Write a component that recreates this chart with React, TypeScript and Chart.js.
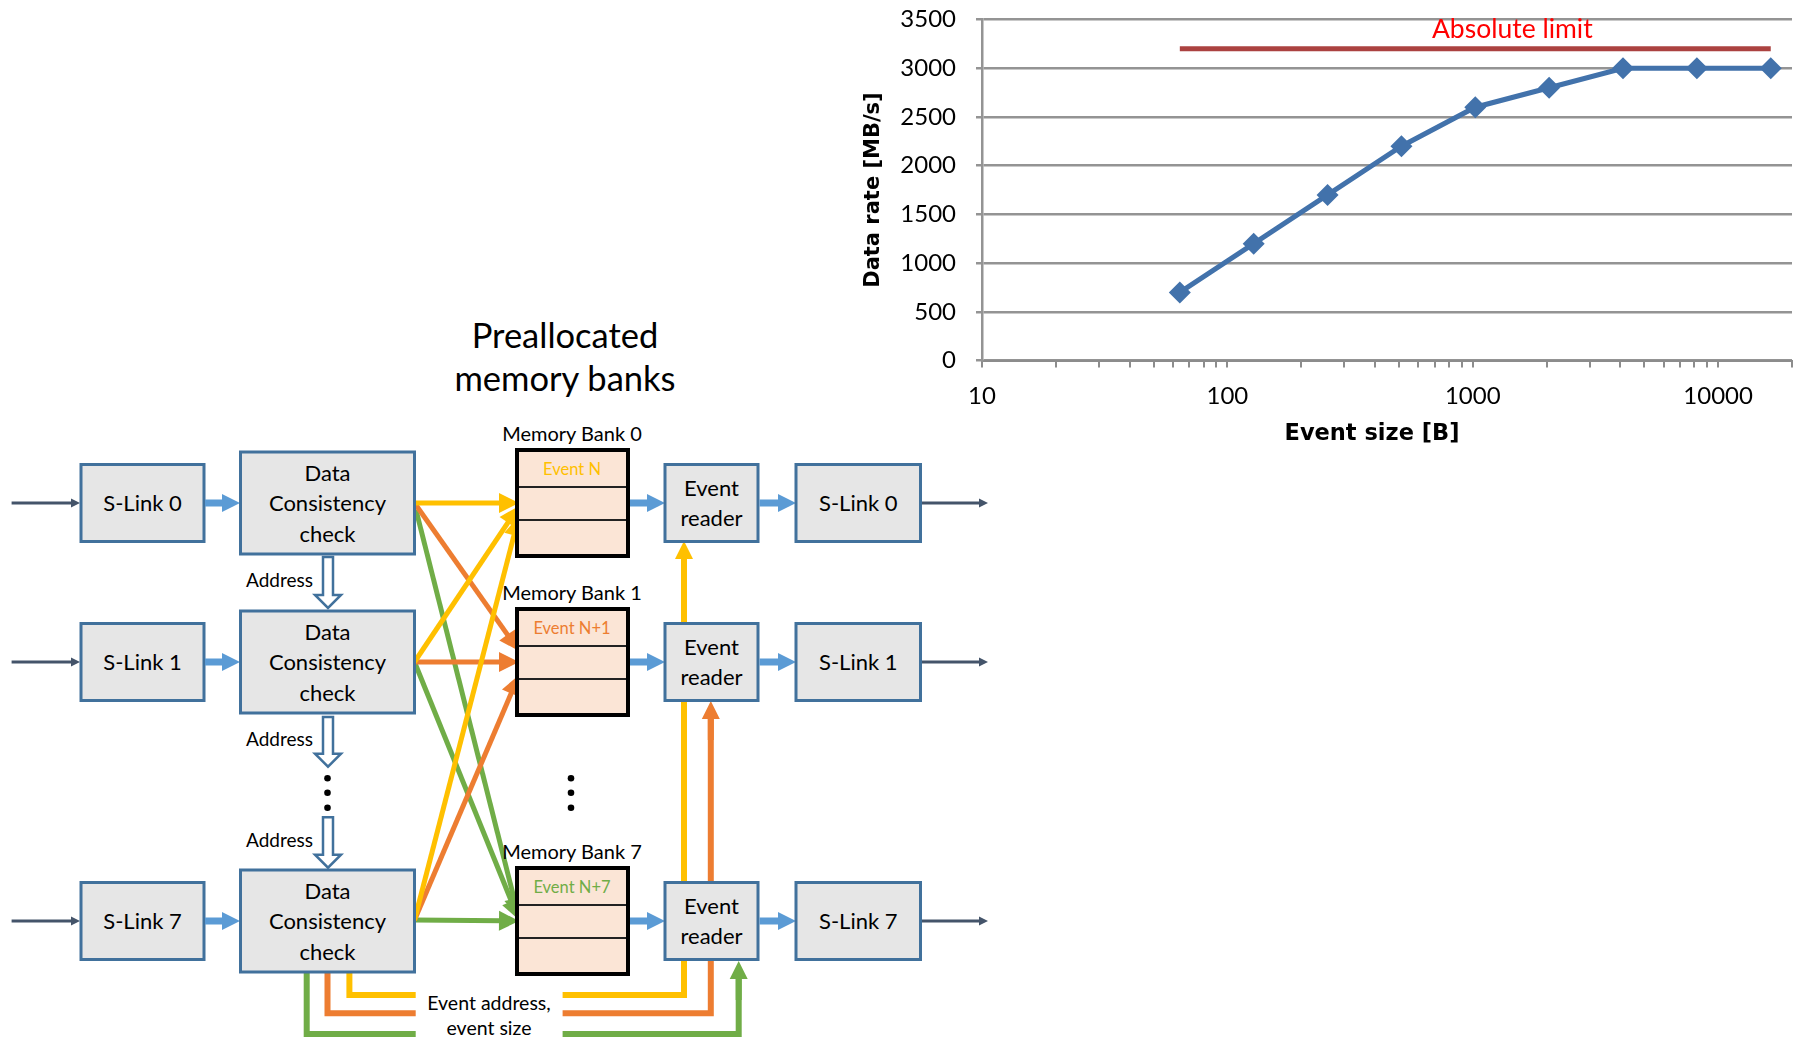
import React, { useEffect, useRef } from "react";
import { Chart, registerables } from "chart.js";

Chart.register(...registerables);

// ---------- chart data ----------
const eventSizes = [64, 128, 256, 512, 1024, 2048, 4096, 8192, 16384];
const dataRates = [700, 1200, 1700, 2200, 2600, 2800, 3000, 3000, 3000];
const limitSizes = [64, 16384];
const limitRates = [3200, 3200];
const limitLabel = "Absolute limit";
const limitLabelSize = 1450;
const limitLabelRate = 3400;
const xMajorTicks = [10, 100, 1000, 10000];
const xMinorTicks = [
  20, 30, 40, 50, 60, 70, 80, 90,
  200, 300, 400, 500, 600, 700, 800, 900,
  2000, 3000, 4000, 5000, 6000, 7000, 8000, 9000,
  20000,
];
const yMin = 0;
const yMax = 3500;
const yStep = 500;
const xMin = 10;
const xMax = 20000;
const xTitle = "Event size [B]";
const yTitle = "Data rate [MB/s]";

// ---------- diagram text ----------
const rowNames = ["0", "1", "7"];
const eventNames = ["Event N", "Event N+1", "Event N+7"];

const C = {
  boxFill: "#e6e6e6",
  boxStroke: "#41719c",
  blue: "#5b9bd5",
  bank: "#fbe5d6",
  yellow: "#ffc000",
  orange: "#ed7d31",
  green: "#70ad47",
  slate: "#44546a",
};
const eventColors = [C.yellow, C.orange, C.green];
const FONT = "Lato, 'Open Sans', sans-serif";

const rows = [503, 662, 921];

function Arrow({ x1, y1, x2, y2, color, w = 6, hl = 20, hw = 20 }: any) {
  const dx = x2 - x1, dy = y2 - y1;
  const len = Math.hypot(dx, dy);
  const ux = dx / len, uy = dy / len;
  const px = -uy, py = ux;
  const bx = x2 - ux * hl, by = y2 - uy * hl;
  return (
    <g>
      <line x1={x1} y1={y1} x2={bx + ux * 3} y2={by + uy * 3} stroke={color} strokeWidth={w} />
      <polygon
        points={`${x2},${y2} ${bx + (px * hw) / 2},${by + (py * hw) / 2} ${bx - (px * hw) / 2},${by - (py * hw) / 2}`}
        fill={color}
      />
    </g>
  );
}

function BlockArrow({ x1, x2, y }: any) {
  const hl = 18, sh = 3.5, hh = 9;
  const pts = [
    [x1, y - sh], [x2 - hl, y - sh], [x2 - hl, y - hh], [x2, y],
    [x2 - hl, y + hh], [x2 - hl, y + sh], [x1, y + sh],
  ].map((p) => p.join(",")).join(" ");
  return <polygon points={pts} fill={C.blue} />;
}

function ThinArrow({ x1, x2, y }: any) {
  return (
    <g>
      <line x1={x1} y1={y} x2={x2 - 6} y2={y} stroke={C.slate} strokeWidth={3} />
      <polygon points={`${x2},${y} ${x2 - 9},${y - 4.5} ${x2 - 9},${y + 4.5}`} fill={C.slate} />
    </g>
  );
}

function HollowArrow({ cx, y1, y2 }: any) {
  const sw = 5, hw = 13, hl = 13;
  const pts = [
    [cx - sw, y1], [cx + sw, y1], [cx + sw, y2 - hl], [cx + hw, y2 - hl],
    [cx, y2], [cx - hw, y2 - hl], [cx - sw, y2 - hl],
  ].map((p) => p.join(",")).join(" ");
  return <polygon points={pts} fill="#fff" stroke={C.boxStroke} strokeWidth={2.5} strokeLinejoin="miter" />;
}

function Box({ x, y, w, h, lines, cy, spacing, fs = 22 }: any) {
  const n = lines.length;
  return (
    <g>
      <rect x={x} y={y} width={w} height={h} fill={C.boxFill} stroke={C.boxStroke} strokeWidth={3} />
      {lines.map((t: string, i: number) => (
        <text
          key={i}
          x={x + w / 2}
          y={cy + (i - (n - 1) / 2) * spacing}
          textAnchor="middle"
          dominantBaseline="central"
          fontFamily={FONT}
          fontSize={fs}
          fill="#000"
        >
          {t}
        </text>
      ))}
    </g>
  );
}

function Diagram() {
  const dccRight = 414.5;
  const bankLeft = 519;
  const t = (x: number, y: number, s: string, fs: number, anchor = "middle", color = "#000") => (
    <text x={x} y={y} textAnchor={anchor as any} dominantBaseline="central" fontFamily={FONT} fontSize={fs} fill={color}>
      {s}
    </text>
  );
  return (
    <svg width={1795} height={1038} style={{ position: "absolute", left: 0, top: 0 }}>
      {/* feedback lines */}
      <g fill="none" strokeWidth={6} strokeLinejoin="miter">
        <polyline points="349.4,972 349.4,995 415.7,995" stroke={C.yellow} />
        <polyline points="562.6,995 684,995 684,556" stroke={C.yellow} />
        <polyline points="327.5,972 327.5,1013.3 415.7,1013.3" stroke={C.orange} />
        <polyline points="562.6,1013.3 710.8,1013.3 710.8,716" stroke={C.orange} />
        <polyline points="306.7,972 306.7,1034 415.7,1034" stroke={C.green} />
        <polyline points="562.6,1034 738.7,1034 738.7,976" stroke={C.green} />
      </g>
      <Arrow x1={684} y1={580} x2={684} y2={541} color={C.yellow} hl={18} hw={18} />
      <Arrow x1={710.8} y1={740} x2={710.8} y2={701} color={C.orange} hl={18} hw={18} />
      <Arrow x1={738.7} y1={1000} x2={738.7} y2={961} color={C.green} hl={18} hw={18} />

      {/* crossing lines */}
      <Arrow x1={dccRight} y1={662} x2={bankLeft} y2={920} color={C.green} w={5} />
      <Arrow x1={416} y1={510} x2={bankLeft} y2={918} color={C.green} w={5} />
      <Arrow x1={dccRight} y1={920} x2={bankLeft} y2={921} color={C.green} w={5} />
      <Arrow x1={dccRight} y1={503} x2={bankLeft} y2={651} color={C.orange} w={5} />
      <Arrow x1={dccRight} y1={920} x2={bankLeft} y2={675} color={C.orange} w={5} />
      <Arrow x1={dccRight} y1={662} x2={bankLeft} y2={662} color={C.orange} w={5} />
      <Arrow x1={dccRight} y1={920} x2={bankLeft} y2={516} color={C.yellow} w={5} />
      <Arrow x1={dccRight} y1={662} x2={bankLeft} y2={506} color={C.yellow} w={5} />
      <Arrow x1={dccRight} y1={503} x2={bankLeft} y2={503} color={C.yellow} w={5} />

      {rows.map((c, i) => (
        <g key={i}>
          <ThinArrow x1={11.6} x2={80} y={c} />
          <Box x={81} y={c - 38.5} w={123} h={77} lines={[`S-Link ${rowNames[i]}`]} cy={c - 1} spacing={0} />
          <BlockArrow x1={205} x2={240} y={c} />
          <Box x={240.5} y={c - 51} w={174} h={102} lines={["Data", "Consistency", "check"]} cy={c - 0.5} spacing={30.5} />
          {/* bank */}
          {t(572, c - 70.5, `Memory Bank ${rowNames[i]}`, 20)}
          <rect x={517} y={c - 53} width={111} height={106} fill={C.bank} stroke="#000" strokeWidth={4} />
          <line x1={519} x2={626} y1={c - 16} y2={c - 16} stroke="#222" strokeWidth={2} />
          <line x1={519} x2={626} y1={c + 17} y2={c + 17} stroke="#222" strokeWidth={2} />
          {t(572, c - 34, eventNames[i], 16.5, "middle", eventColors[i])}
          <BlockArrow x1={630} x2={665} y={c} />
          <Box x={665} y={c - 38.5} w={93} h={77} lines={["Event", "reader"]} cy={c - 1} spacing={30} />
          <BlockArrow x1={759.5} x2={796} y={c} />
          <Box x={796} y={c - 38.5} w={124.5} h={77} lines={[`S-Link ${rowNames[i]}`]} cy={c - 1} spacing={0} />
          <ThinArrow x1={922} x2={988} y={c} />
        </g>
      ))}

      {/* address arrows */}
      <HollowArrow cx={328} y1={557} y2={608} />
      <HollowArrow cx={328} y1={717} y2={766.7} />
      <HollowArrow cx={328} y1={817.3} y2={867.7} />
      {t(313, 579, "Address", 19, "end")}
      {t(313, 738.5, "Address", 19, "end")}
      {t(313, 839, "Address", 19, "end")}

      {[778.3, 792.7, 807.7].map((y, i) => (
        <g key={i}>
          <circle cx={327.5} cy={y} r={3.3} fill="#000" />
          <circle cx={571} cy={y} r={3.3} fill="#000" />
        </g>
      ))}

      {t(565, 334.7, "Preallocated", 34.5)}
      {t(565, 377.8, "memory banks", 34.5)}
      {t(489, 1002, "Event address,", 19.5)}
      {t(489, 1027, "event size", 19.5)}
    </svg>
  );
}

const labelPlugin = {
  id: "labels",
  afterDatasetsDraw(chart: any) {
    const { ctx, scales, chartArea } = chart;
    const x = scales.x.getPixelForValue(limitLabelSize);
    const y = scales.y.getPixelForValue(limitLabelRate);
    ctx.save();
    ctx.font = `26.5px ${FONT}`;
    ctx.fillStyle = "#ff0000";
    ctx.textAlign = "center";
    ctx.textBaseline = "middle";
    ctx.fillText(limitLabel, x, y);
    // x-axis title (slightly left of the plot centre, as in the original)
    ctx.font = `bold 22.5px 'DejaVu Sans'`;
    ctx.fillStyle = "#000";
    ctx.fillText(xTitle, (chartArea.left + chartArea.right) / 2 - 15, chartArea.bottom + 74);
    ctx.restore();
  },
};

function RateChart() {
  const ref = useRef<HTMLCanvasElement | null>(null);
  useEffect(() => {
    if (!ref.current) return;
    const allTicks = [...xMajorTicks, ...xMinorTicks].sort((a, b) => a - b);
    const chart = new Chart(ref.current, {
      type: "line",
      data: {
        datasets: [
          {
            label: "Data rate",
            data: eventSizes.map((x, i) => ({ x, y: dataRates[i] })),
            borderColor: "#4272ab",
            backgroundColor: "#4272ab",
            borderWidth: 5,
            pointStyle: "rectRot",
            pointRadius: 11,
            pointBorderWidth: 0,
            tension: 0,
          },
          {
            label: "Absolute limit",
            data: limitSizes.map((x, i) => ({ x, y: limitRates[i] })),
            borderColor: "#ab4240",
            borderWidth: 5,
            pointRadius: 0,
          },
        ],
      },
      options: {
        animation: false,
        responsive: false,
        layout: { padding: { top: 19.5, right: 0, left: 0, bottom: 0 } },
        plugins: { legend: { display: false }, tooltip: { enabled: false } },
        scales: {
          x: {
            type: "logarithmic",
            min: xMin,
            max: xMax,
            afterBuildTicks: (s: any) => {
              s.ticks = allTicks.map((v) => ({ value: v, major: false }));
            },
            afterFit: (s: any) => {
              s.height = 99.4;
              s.paddingLeft = 0;
              s.paddingRight = 0;
            },
            ticks: {
              autoSkip: false,
              maxRotation: 0,
              padding: 14,
              color: "#000",
              font: { family: FONT, size: 24 },
              callback: (v: any) => (xMajorTicks.includes(Number(v)) ? String(v) : ""),
            },
            grid: { drawOnChartArea: false, tickLength: 7, color: "#8c8c8c", lineWidth: 2 },
            border: { color: "#8c8c8c", width: 2 },
            title: { display: false, text: xTitle },
          },
          y: {
            min: yMin,
            max: yMax,
            afterFit: (s: any) => {
              s.width = 132;
              s.paddingTop = 0;
              s.paddingBottom = 0;
            },
            ticks: {
              stepSize: yStep,
              padding: 20,
              color: "#000",
              font: { family: FONT, size: 24 },
              callback: (v: any) => String(v),
            },
            grid: { color: "#949494", lineWidth: 2.5, tickLength: 6 },
            border: { color: "#949494", width: 2.5 },
            title: {
              display: true,
              text: yTitle,
              color: "#000",
              font: { family: "'DejaVu Sans'", weight: "bold", size: 21 },
              padding: { top: 11, bottom: 0 },
            },
          },
        },
      } as any,
      plugins: [labelPlugin],
    });
    return () => chart.destroy();
  }, []);
  return (
    <div style={{ position: "absolute", left: 850, top: 0, width: 953, height: 460 }}>
      <canvas ref={ref} width={953} height={460} style={{ width: 953, height: 460 }} />
    </div>
  );
}

export default function App() {
  return (
    <div style={{ position: "absolute", left: 0, top: 0, width: 1795, height: 1038, overflow: "hidden", background: "#fff" }}>
      <Diagram />
      <RateChart />
    </div>
  );
}
